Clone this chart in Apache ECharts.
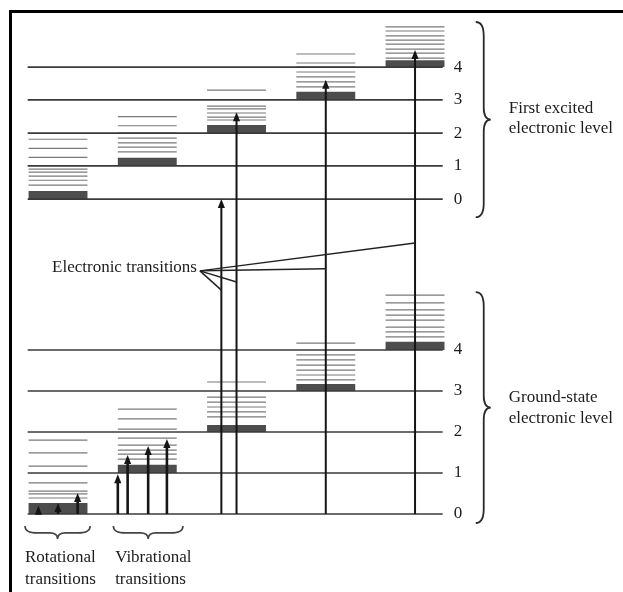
<!DOCTYPE html>
<html>
<head>
<meta charset="utf-8">
<script src="https://cdn.jsdelivr.net/npm/echarts@6/dist/echarts.min.js"></script>
<style>
  html, body { margin: 0; padding: 0; background: #ffffff; }
  #chart { width: 623px; height: 592px; }
</style>
</head>
<body>
<div id="chart"></div>
<script>
// Vibrational quantum numbers written beside each level
const vibLabels = ['0', '1', '2', '3', '4'];

// Vibrational level energies, in units of the ground-state vibrational quantum
const groundLevels = [0, 1, 2, 3, 4];
const excitedLevels = [7.68, 8.49, 9.29, 10.10, 10.90];

// Rotational sub-levels: offsets above the vibrational level, one list per column
const groundRot = [
  [0.39, 0.49, 0.56, 0.76, 1.17, 1.49, 1.80],
  [0.34, 0.46, 0.56, 0.68, 0.85, 1.07, 1.32, 1.56],
  [0.37, 0.49, 0.61, 0.73, 0.85, 1.22],
  [0.27, 0.39, 0.51, 0.63, 0.76, 0.88, 1.17],
  [0.32, 0.44, 0.56, 0.73, 0.85, 0.98, 1.15, 1.34]
];
const excitedRot = [
  [0.34, 0.46, 0.56, 0.66, 0.73, 1.02, 1.24, 1.46],
  [0.34, 0.46, 0.56, 0.68, 0.80, 0.98, 1.20],
  [0.32, 0.39, 0.49, 0.59, 0.66, 1.05],
  [0.32, 0.44, 0.56, 0.68, 0.80, 0.90, 1.12],
  [0.22, 0.34, 0.44, 0.56, 0.66, 0.76, 0.88, 0.98]
];
// Height of the crowded low-J band at the foot of each column
const groundBand = [0.27, 0.20, 0.17, 0.17, 0.20];
const excitedBand = [0.20, 0.20, 0.20, 0.20, 0.17];

// Electronic transitions (ground v=0 up into the excited state)
const electronicX = [1.83, 2.00, 3.00, 4.00];
const electronicTop = [7.68, 9.80, 10.59, 11.32];
// Vibrational transitions within the ground state
const vibX = [0.67, 0.78, 1.01, 1.22];
const vibTop = [0.97, 1.44, 1.66, 1.83];
// Rotational transitions within the ground state
const rotX = [-0.22, 0.00, 0.22];
const rotTop = [0.20, 0.27, 0.51];

// Where the "Electronic transitions" leaders meet each arrow
const leaderHit = [5.46, 5.66, 5.98, 6.61];

// ---- derived series data ----
const colX = [0, 1, 2, 3, 4];
const HALF = 0.33;          // half width of a level column (x units)
const LINE_L = -0.34, LINE_R = 4.31;

const levelData = [];
groundLevels.forEach(e => levelData.push([LINE_L, LINE_R, e]));
excitedLevels.forEach(e => levelData.push([LINE_L, LINE_R, e]));

const rotData = [];
const bandData = [];
function addStack(levels, rot, band) {
  levels.forEach((e, i) => {
    bandData.push([colX[i], e, band[i]]);
    rot[i].forEach(o => rotData.push([colX[i], e + o]));
  });
}
addStack(groundLevels, groundRot, groundBand);
addStack(excitedLevels, excitedRot, excitedBand);

const arrowData = [];
electronicX.forEach((x, i) => arrowData.push([x, groundLevels[0], electronicTop[i], 2]));
vibX.forEach((x, i) => arrowData.push([x, groundLevels[0], vibTop[i], 2.6]));
rotX.forEach((x, i) => arrowData.push([x, groundLevels[0], rotTop[i], 2.6]));

const leaderFrom = [1.59, 5.93];
const leaderData = electronicX.map((x, i) => [leaderFrom[0], leaderFrom[1], x, leaderHit[i]]);

const numberData = [];
const numberText = [];
groundLevels.forEach((e, i) => { numberData.push([4.48, e]); numberText.push(vibLabels[i]); });
excitedLevels.forEach((e, i) => { numberData.push([4.48, e]); numberText.push(vibLabels[i]); });

const textItems = [
  { t: 'Electronic transitions', x: 1.557, y: 6.0, align: 'right' },
  { t: 'First excited', x: 5.05, y: 9.90, align: 'left' },
  { t: 'electronic level', x: 5.05, y: 9.41, align: 'left' },
  { t: 'Ground-state', x: 5.05, y: 2.83, align: 'left' },
  { t: 'electronic level', x: 5.05, y: 2.34, align: 'left' },
  { t: 'Rotational', x: -0.37, y: -1.07, align: 'left' },
  { t: 'transitions', x: -0.37, y: -1.59, align: 'left' },
  { t: 'Vibrational', x: 0.64, y: -1.07, align: 'left' },
  { t: 'transitions', x: 0.64, y: -1.59, align: 'left' }
];

// Braces: vertical ones point right, horizontal ones point down
const vBraceData = [[4.68, 12.0, 7.24], [4.68, 5.41, -0.22]];
const hBraceData = [[-0.37, 0.36, -0.29], [0.62, 1.40, -0.29]];

const FONT_FAMILY = "'Liberation Serif', 'Times New Roman', Times, serif";
const FONT_SIZE = 17;
const INK = '#151515';

const chart = echarts.init(document.getElementById('chart'), null, { renderer: 'canvas' });

chart.setOption({
  animation: false,
  backgroundColor: '#ffffff',
  grid: { left: 0, right: 0, top: 1.5, bottom: 16.5 },
  xAxis: { type: 'value', min: -0.65, max: 6.33, show: false },
  yAxis: { type: 'value', min: -1.5, max: 12.5, show: false },
  graphic: [{
    type: 'polyline',
    shape: { points: [[10.5, 592], [10.5, 11.5], [623, 11.5]] },
    style: { stroke: '#000', lineWidth: 3, fill: null }
  }],
  series: [
    {
      // crowded low-J rotational band at the foot of each column
      type: 'custom', data: bandData, silent: true,
      renderItem: (params, api) => {
        const x = api.value(0), e = api.value(1), h = api.value(2);
        const a = api.coord([x - HALF, e + h]);
        const b = api.coord([x + HALF, e]);
        return { type: 'rect', shape: { x: a[0], y: a[1], width: b[0] - a[0], height: b[1] - a[1] },
                 style: { fill: '#4d4d4d' } };
      }
    },
    {
      // individual rotational levels
      type: 'custom', data: rotData, silent: true,
      renderItem: (params, api) => {
        const x = api.value(0), e = api.value(1);
        const a = api.coord([x - HALF, e]);
        const b = api.coord([x + HALF, e]);
        return { type: 'line', shape: { x1: a[0], y1: a[1], x2: b[0], y2: b[1] },
                 style: { stroke: '#7a7a7a', lineWidth: 1.2 } };
      }
    },
    {
      // vibrational levels spanning the whole diagram
      type: 'custom', data: levelData, silent: true,
      renderItem: (params, api) => {
        const a = api.coord([api.value(0), api.value(2)]);
        const b = api.coord([api.value(1), api.value(2)]);
        return { type: 'line', shape: { x1: a[0], y1: a[1], x2: b[0], y2: b[1] },
                 style: { stroke: '#3a3a3a', lineWidth: 1.6 } };
      }
    },
    {
      // transition arrows
      type: 'custom', data: arrowData, silent: true,
      renderItem: (params, api) => {
        const p0 = api.coord([api.value(0), api.value(1)]);
        const p1 = api.coord([api.value(0), api.value(2)]);
        const w = api.value(3);
        const hl = 9, hw = 3.6;
        return {
          type: 'group', children: [
            { type: 'line', shape: { x1: p0[0], y1: p0[1], x2: p1[0], y2: p1[1] + hl * 0.6 },
              style: { stroke: INK, lineWidth: w } },
            { type: 'polygon', shape: { points: [[p1[0], p1[1]], [p1[0] - hw, p1[1] + hl], [p1[0] + hw, p1[1] + hl]] },
              style: { fill: INK } }
          ]
        };
      }
    },
    {
      // leader lines from the "Electronic transitions" label
      type: 'custom', data: leaderData, silent: true,
      renderItem: (params, api) => {
        const a = api.coord([api.value(0), api.value(1)]);
        const b = api.coord([api.value(2), api.value(3)]);
        return { type: 'line', shape: { x1: a[0], y1: a[1], x2: b[0], y2: b[1] },
                 style: { stroke: '#222', lineWidth: 1.5 } };
      }
    },
    {
      // vertical braces grouping each electronic state
      type: 'custom', data: vBraceData, silent: true,
      renderItem: (params, api) => {
        const t = api.coord([api.value(0), api.value(1)]);
        const b = api.coord([api.value(0), api.value(2)]);
        const x0 = t[0], yT = t[1], yB = b[1], yM = (yT + yB) / 2;
        const xa = x0 + 8, xt = x0 + 15;
        const d = `M${x0} ${yT} Q${xa} ${yT} ${xa} ${yT + 14} L${xa} ${yM - 12} Q${xa} ${yM} ${xt} ${yM}` +
                  ` Q${xa} ${yM} ${xa} ${yM + 12} L${xa} ${yB - 14} Q${xa} ${yB} ${x0} ${yB}`;
        return { type: 'path', shape: { pathData: d }, style: { stroke: '#2a2a2a', lineWidth: 1.8, fill: null } };
      }
    },
    {
      // horizontal braces under the small transitions
      type: 'custom', data: hBraceData, silent: true,
      renderItem: (params, api) => {
        const l = api.coord([api.value(0), api.value(2)]);
        const r = api.coord([api.value(1), api.value(2)]);
        const y0 = l[1], xL = l[0], xR = r[0], xM = (xL + xR) / 2;
        const ya = y0 + 7, yt = y0 + 13;
        const d = `M${xL} ${y0} Q${xL} ${ya} ${xL + 12} ${ya} L${xM - 8} ${ya} Q${xM} ${ya} ${xM} ${yt}` +
                  ` Q${xM} ${ya} ${xM + 8} ${ya} L${xR - 12} ${ya} Q${xR} ${ya} ${xR} ${y0}`;
        return { type: 'path', shape: { pathData: d }, style: { stroke: '#444', lineWidth: 1.6, fill: null } };
      }
    },
    {
      // vibrational quantum numbers
      type: 'custom', data: numberData, silent: true,
      renderItem: (params, api) => {
        const p = api.coord([api.value(0), api.value(1)]);
        return { type: 'text', x: p[0], y: p[1],
                 style: { text: numberText[params.dataIndex], fill: '#1c1c1c',
                          fontFamily: FONT_FAMILY, fontSize: FONT_SIZE,
                          align: 'center', verticalAlign: 'middle' } };
      }
    },
    {
      // descriptive labels
      type: 'custom', data: textItems.map(d => [d.x, d.y]), silent: true,
      renderItem: (params, api) => {
        const item = textItems[params.dataIndex];
        const p = api.coord([api.value(0), api.value(1)]);
        return { type: 'text', x: p[0], y: p[1],
                 style: { text: item.t, fill: '#1c1c1c',
                          fontFamily: FONT_FAMILY, fontSize: FONT_SIZE,
                          align: item.align, verticalAlign: 'middle' } };
      }
    }
  ]
});
</script>
</body>
</html>
